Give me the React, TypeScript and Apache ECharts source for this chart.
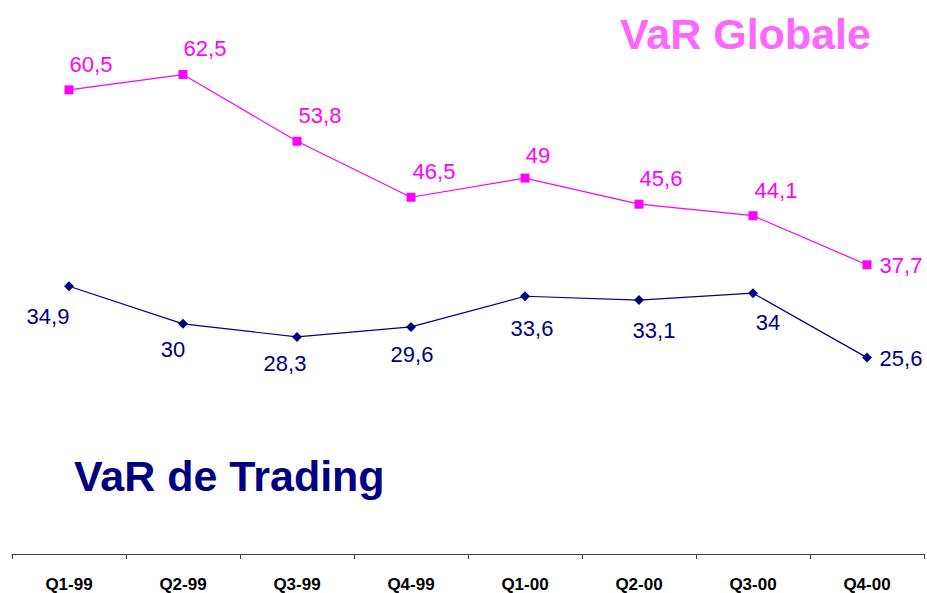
import React, { useEffect, useRef } from "react";
import * as echarts from "echarts";

const categories = ["Q1-99", "Q2-99", "Q3-99", "Q4-99", "Q1-00", "Q2-00", "Q3-00", "Q4-00"];
const varGlobale = [60.5, 62.5, 53.8, 46.5, 49, 45.6, 44.1, 37.7];
const varTrading = [34.9, 30, 28.3, 29.6, 33.6, 33.1, 34, 25.6];
const globaleLabelOffsets = [[22, -25], [22, -26], [23, -26], [23, -26], [13, -23], [22, -26], [23, -25], [34, 1]];
const tradingLabelOffsets = [[-21, 30], [-10, 26], [-12, 27], [1, 28], [7, 32], [15, 30], [15, 29], [34, 1]];

const fmt = (v: number) => String(v).replace(".", ",");

export default function App() {
  const ref = useRef<HTMLDivElement>(null);
  useEffect(() => {
    const chart = echarts.init(ref.current!, null, { renderer: "svg" });
    const mk = (vals: number[], offs: number[][], color: string) =>
      vals.map((v, i) => ({
        value: v,
        label: {
          show: true,
          position: "inside",
          offset: offs[i],
          align: "center",
          verticalAlign: "middle",
          formatter: () => fmt(v),
          color,
          fontSize: 22,
          fontFamily: "Liberation Sans, Arial, sans-serif",
        },
      }));
    chart.setOption({
      animation: false,
      backgroundColor: "#ffffff",
      grid: { left: 12, right: 3, top: 17, bottom: 39 },
      title: [
        {
          text: "VaR Globale",
          left: 615,
          top: 7,
          textStyle: { color: "#FF66FF", fontSize: 43, fontWeight: "bold", fontFamily: "Liberation Sans, Arial, sans-serif" },
        },
        {
          text: "VaR de Trading",
          left: 69,
          top: 449,
          textStyle: { color: "#000080", fontSize: 43, fontWeight: "bold", fontFamily: "Liberation Sans, Arial, sans-serif" },
        },
      ],
      xAxis: {
        type: "category",
        data: categories,
        boundaryGap: true,
        axisLine: { show: true, lineStyle: { color: "#404040", width: 1 } },
        axisTick: { show: true, length: 5, lineStyle: { color: "#404040" } },
        axisLabel: {
          color: "#000000",
          fontSize: 17,
          fontWeight: "bold",
          margin: 22,
          fontFamily: "Liberation Sans, Arial, sans-serif",
        },
      },
      yAxis: {
        type: "value",
        min: 0,
        max: 70,
        show: false,
        splitLine: { show: false },
      },
      series: [
        {
          name: "VaR Globale",
          type: "line",
          data: mk(varGlobale, globaleLabelOffsets, "#FF00FF"),
          symbol: "rect",
          symbolSize: 9,
          itemStyle: { color: "#FF00FF" },
          lineStyle: { color: "#FF00FF", width: 1.2 },
        },
        {
          name: "VaR de Trading",
          type: "line",
          data: mk(varTrading, tradingLabelOffsets, "#000080"),
          symbol: "diamond",
          symbolSize: 10,
          itemStyle: { color: "#000080" },
          lineStyle: { color: "#000080", width: 1.2 },
        },
      ],
    });
    return () => chart.dispose();
  }, []);
  return (
    <div
      ref={ref}
      style={{ position: "absolute", left: 0, top: 0, width: 927, height: 593, background: "#fff" }}
    />
  );
}
